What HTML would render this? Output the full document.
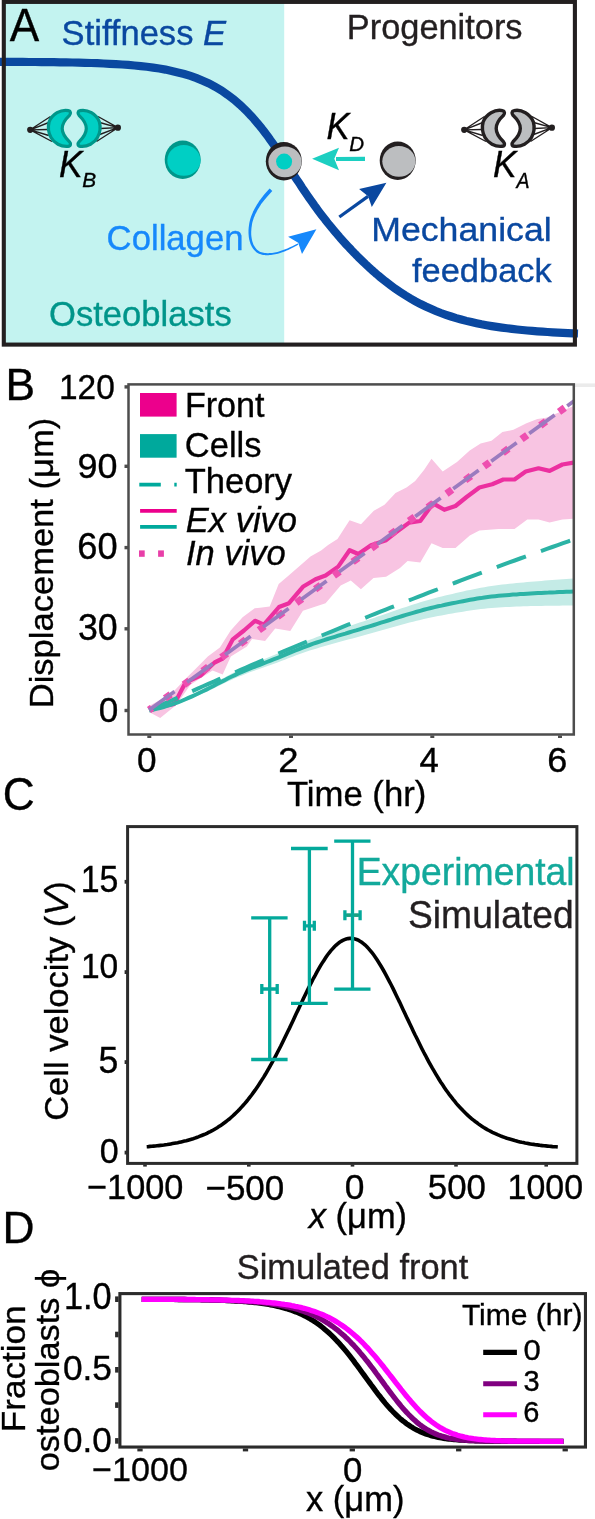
<!DOCTYPE html>
<html><head><meta charset="utf-8"><title>Figure</title>
<style>
html,body{margin:0;padding:0;background:#fff;width:595px;height:1519px;overflow:hidden;}
svg{display:block;will-change:transform;}
text{font-family:"Liberation Sans",sans-serif;}
</style></head><body>
<svg width="595" height="1519" viewBox="0 0 595 1519">
<rect x="0" y="0" width="595" height="1519" fill="#fff"/>
<rect x="5" y="3" width="279.2" height="340" fill="#c3f3f0"/>
<path d="M-2 61.8 L4.2 61.8 L10.4 61.8 L16.6 61.9 L22.8 61.9 L29 62 L35.2 62 L41.4 62.1 L47.6 62.1 L53.8 62.2 L60.1 62.3 L66.3 62.4 L72.5 62.5 L78.7 62.6 L84.9 62.8 L91.1 63 L97.3 63.2 L103.5 63.5 L109.7 63.8 L115.9 64.1 L122.1 64.5 L128.3 64.9 L134.5 65.5 L140.7 66.1 L146.9 66.8 L153.1 67.6 L159.3 68.5 L165.5 69.6 L171.7 70.9 L177.9 72.4 L184.2 74 L190.4 75.9 L196.6 78.1 L202.8 80.7 L209 83.5 L215.2 86.8 L221.4 90.5 L227.6 94.8 L233.8 99.5 L240 104.8 L240 104.8 L241.8 106.5 L243.5 108.1 L245.3 109.9 L247.1 111.7 L248.9 113.5 L250.6 115.4 L252.4 117.3 L254.2 119.3 L255.9 121.4 L257.7 123.5 L259.5 125.6 L261.3 127.8 L263 130.1 L264.8 132.4 L266.6 134.7 L268.4 137.1 L270.1 139.6 L271.9 142.1 L273.7 144.6 L275.4 147.1 L277.2 149.7 L279 152.4 L280.8 155 L282.5 157.7 L284.3 160.4 L286.1 163.1 L287.8 165.8 L289.6 168.5 L291.4 171.3 L293.2 174 L294.9 176.7 L296.7 179.4 L298.5 182.1 L300.3 184.8 L302 187.5 L303.8 190.1 L305.6 192.8 L307.3 195.3 L309.1 197.9 L310.9 200.4 L312.7 202.9 L314.4 205.4 L316.2 207.8 L318 210.3 L319.7 212.6 L321.5 215 L323.3 217.3 L325.1 219.5 L326.8 221.8 L328.6 224 L330.4 226.2 L332.2 228.3 L333.9 230.5 L335.7 232.6 L337.5 234.6 L339.2 236.7 L341 238.7 L342.8 240.7 L344.6 242.7 L346.3 244.6 L348.1 246.5 L349.9 248.4 L351.6 250.3 L353.4 252.1 L355.2 254 L357 255.8 L358.7 257.6 L360.5 259.3 L362.3 261 L364.1 262.7 L365.8 264.4 L367.6 266.1 L369.4 267.7 L371.1 269.3 L372.9 270.9 L374.7 272.5 L376.5 274 L378.2 275.5 L380 277 L380 277 L385.1 281.1 L390.2 285 L395.2 288.7 L400.3 292.1 L405.4 295.4 L410.5 298.5 L415.5 301.3 L420.6 304 L425.7 306.5 L430.8 308.8 L435.8 311 L440.9 313 L446 314.8 L451.1 316.5 L456.2 318.1 L461.2 319.5 L466.3 320.9 L471.4 322.1 L476.5 323.2 L481.5 324.3 L486.6 325.2 L491.7 326.1 L496.8 326.9 L501.8 327.6 L506.9 328.3 L512 328.9 L517.1 329.5 L522.2 330 L527.2 330.5 L532.3 330.9 L537.4 331.3 L542.5 331.7 L547.5 332 L552.6 332.3 L557.7 332.6 L562.8 332.8 L567.8 333.1 L572.9 333.3 L578 333.5" fill="none" stroke="#0a48a0" stroke-width="8.2"/>
<g transform="translate(0 0)"><path d="M30.2 129.8 L50.5 116.5 M30.2 129.8 L48.8 122.5 M30.2 129.8 L48 129.5 M30.2 129.8 L48.8 135.5 M30.2 129.8 L52 141.5 M117.9 127.7 L98 116.5 M117.9 127.7 L99.7 122.5 M117.9 127.7 L100.5 128.5 M117.9 127.7 L99.7 134.5 M117.9 127.7 L96.5 141.5 " stroke="#231f20" stroke-width="1.35" fill="none"/><circle cx="30.2" cy="129.8" r="3.1" fill="#231f20"/><circle cx="117.9" cy="127.7" r="3.1" fill="#231f20"/><path d="M68.5 110.6 C61 109 52 114 49.1 122 C47.8 127 48.5 133 51 137.5 C54 143 61 147 68 146.3 C71 146 71 143.5 69.5 141.8 C65 137.5 62.2 133 62.2 128.5 C62.2 124 65 119.5 69.5 115.3 C71 113.6 70.8 111 68.5 110.6 Z" fill="#00cfc4" stroke="#00968a" stroke-width="3.2" stroke-linejoin="round"/><path transform="matrix(-1 0 0 1 148.5 0)" d="M68.5 110.6 C61 109 52 114 49.1 122 C47.8 127 48.5 133 51 137.5 C54 143 61 147 68 146.3 C71 146 71 143.5 69.5 141.8 C65 137.5 62.2 133 62.2 128.5 C62.2 124 65 119.5 69.5 115.3 C71 113.6 70.8 111 68.5 110.6 Z" fill="#00cfc4" stroke="#00968a" stroke-width="3.2" stroke-linejoin="round"/></g>
<g transform="translate(434 0)"><path d="M30.2 129.8 L50.5 116.5 M30.2 129.8 L48.8 122.5 M30.2 129.8 L48 129.5 M30.2 129.8 L48.8 135.5 M30.2 129.8 L52 141.5 M117.9 127.7 L98 116.5 M117.9 127.7 L99.7 122.5 M117.9 127.7 L100.5 128.5 M117.9 127.7 L99.7 134.5 M117.9 127.7 L96.5 141.5 " stroke="#231f20" stroke-width="1.35" fill="none"/><circle cx="30.2" cy="129.8" r="3.1" fill="#231f20"/><circle cx="117.9" cy="127.7" r="3.1" fill="#231f20"/><path d="M68.5 110.6 C61 109 52 114 49.1 122 C47.8 127 48.5 133 51 137.5 C54 143 61 147 68 146.3 C71 146 71 143.5 69.5 141.8 C65 137.5 62.2 133 62.2 128.5 C62.2 124 65 119.5 69.5 115.3 C71 113.6 70.8 111 68.5 110.6 Z" fill="#bcbec0" stroke="#231f20" stroke-width="3.4" stroke-linejoin="round"/><path transform="matrix(-1 0 0 1 148.5 0)" d="M68.5 110.6 C61 109 52 114 49.1 122 C47.8 127 48.5 133 51 137.5 C54 143 61 147 68 146.3 C71 146 71 143.5 69.5 141.8 C65 137.5 62.2 133 62.2 128.5 C62.2 124 65 119.5 69.5 115.3 C71 113.6 70.8 111 68.5 110.6 Z" fill="#bcbec0" stroke="#231f20" stroke-width="3.4" stroke-linejoin="round"/></g>
<ellipse cx="182.7" cy="159.8" rx="18" ry="19.2" fill="#00968a"/><ellipse cx="183.9" cy="160.4" rx="16.6" ry="15.4" fill="#00cfc4"/>
<ellipse cx="283.8" cy="161.2" rx="18" ry="19.2" fill="#231f20"/><ellipse cx="285" cy="161.8" rx="16.6" ry="15.4" fill="#bcbec0"/>
<circle cx="284.1" cy="161.6" r="8" fill="#00cfc4"/>
<ellipse cx="397.7" cy="160.7" rx="18" ry="19.2" fill="#231f20"/><ellipse cx="398.9" cy="161.3" rx="16.6" ry="15.4" fill="#bcbec0"/>
<path d="M365 156.7 L336 156.9 L336 160.9 L365 160.9 Z" fill="#1ccfc1"/>
<path d="M312.1 158.8 L339 147.8 L334.3 158.8 L339 170.2 Z" fill="#1ccfc1"/>
<path d="M269.7 188.5 L268.7 189.5 L267.8 190.5 L266.9 191.5 L266 192.5 L265.1 193.5 L264.2 194.6 L263.4 195.6 L262.5 196.7 L261.7 197.8 L260.8 198.9 L260 200 L259.2 201.1 L258.5 202.2 L257.7 203.4 L257 204.5 L256.3 205.7 L255.6 206.9 L255 208 L254.3 209.2 L253.7 210.4 L253.1 211.6 L252.6 212.9 L252.1 214.1 L251.6 215.3 L251.1 216.6 L250.7 217.8 L250.3 219.1 L249.9 220.4 L249.6 221.7 L249.3 223.2 L249.1 224.6 L248.9 226.1 L248.7 227.5 L248.6 228.9 L248.5 230.3 L248.5 231.7 L248.5 233 L248.6 234.4 L248.7 235.7 L248.8 236.9 L249 238.2 L249.2 239.4 L249.5 240.6 L249.8 241.7 L250.2 242.8 L250.5 243.9 L251 244.9 L251.5 245.9 L252 246.9 L252.5 247.8 L253.1 248.7 L253.8 249.5 L254.4 250.3 L255.2 251.1 L255.9 251.7 L256.7 252.4 L257.6 253 L258.5 253.5 L259.7 254 L260.8 254.3 L262 254.7 L263.2 254.9 L264.5 255.1 L265.7 255.2 L267 255.2 L268.3 255.2 L269.6 255.1 L271 255 L272.3 254.8 L273.7 254.6 L275.1 254.3 L276.5 254 L277.9 253.7 L279.4 253.2 L280.8 252.8 L282.3 252.3 L283.7 251.8 L285.2 251.2 L286.6 250.6 L288.1 249.9 L289.6 249.3 L291 248.5 L292.5 247.8 L294 247 L295.4 246.3 L296.9 245.4 L298.3 244.6 L297.7 243.4 L296.2 244.2 L294.7 245 L293.3 245.7 L291.8 246.4 L290.4 247.1 L288.9 247.8 L287.4 248.4 L286 249 L284.5 249.6 L283.1 250.1 L281.7 250.6 L280.3 251.1 L278.9 251.5 L277.5 251.9 L276.1 252.2 L274.7 252.5 L273.4 252.7 L272.1 252.9 L270.8 253 L269.5 253.1 L268.3 253.2 L267.1 253.2 L265.9 253.1 L264.7 253 L263.6 252.8 L262.5 252.5 L261.5 252.2 L260.4 251.9 L259.5 251.5 L258.8 251.1 L258.1 250.6 L257.4 250 L256.8 249.4 L256.2 248.7 L255.6 248.1 L255.1 247.3 L254.6 246.5 L254.1 245.7 L253.6 244.9 L253.2 244 L252.9 243 L252.5 242 L252.2 241 L252 240 L251.8 238.9 L251.6 237.8 L251.4 236.6 L251.3 235.4 L251.2 234.2 L251.2 233 L251.2 231.7 L251.3 230.4 L251.4 229.1 L251.5 227.8 L251.7 226.5 L251.9 225.1 L252.1 223.7 L252.4 222.3 L252.7 221.2 L253.1 220 L253.5 218.8 L253.9 217.6 L254.4 216.4 L254.9 215.3 L255.4 214.1 L256 213 L256.5 211.9 L257.1 210.7 L257.8 209.6 L258.4 208.5 L259.1 207.4 L259.8 206.3 L260.5 205.2 L261.2 204.1 L262 203.1 L262.8 202 L263.6 201 L264.4 199.9 L265.2 198.9 L266.1 197.9 L266.9 196.9 L267.8 195.9 L268.7 194.9 L269.6 193.9 L270.5 193 L271.4 192 L272.3 191.1 Z" fill="#1688fb"/>
<path d="M316.4 229.2 L288.1 236.7 L298.2 242.8 L302 254.1 Z" fill="#1688fb"/>
<path d="M339.3 217 L368 196.4" stroke="#0a48a0" stroke-width="3.2" fill="none"/>
<path d="M386.4 182.8 L359.1 189.1 L368.1 196.2 L371.8 207 Z" fill="#0a48a0"/>
<rect x="3.8" y="1.9" width="571.1" height="342.7" fill="none" stroke="#231f20" stroke-width="4.1"/>
<rect x="575" y="383.4" width="20" height="3.6" fill="#ebebeb"/>
<path d="M149 706 L160 700 L175 690 L185.1 679.2 L195.7 668.7 L207.8 656.6 L219.9 647.5 L230.5 630.8 L242.6 617.2 L254.7 608.2 L260 607.8 L269.7 606.6 L278.7 583.9 L287.8 576.3 L299.9 565.7 L310.5 556.6 L321.1 550.4 L328.1 545.1 L337.5 539.1 L349.6 520.3 L361 524.3 L373.8 510.8 L384.5 504.8 L395.5 492.9 L406.5 487.5 L415.2 480.9 L424 470 L431.5 458.7 L442.7 471.5 L457 461.9 L469.7 450.5 L480.6 443.6 L491.5 440.7 L502.4 432 L513.4 429.8 L526.5 423.2 L537.4 418.9 L546.1 417.8 L560 412 L573.5 406 L573.5 518.8 L562.4 519.4 L549.6 522.6 L538.5 519.4 L527.3 519.4 L514.5 529 L498.6 529 L479.4 530.6 L469.8 535.4 L455.5 548.1 L442.7 548.1 L431.5 543.3 L420.3 562.5 L407.6 560.9 L400 567.9 L386.1 576.7 L373.5 578 L360.9 589.3 L350.8 580.5 L340.7 585.5 L325.6 603.2 L302.9 610.7 L290.3 630.9 L275.2 628.4 L265.1 641 L252 639 L246.9 646.4 L230.8 656.5 L222.7 674.6 L212.6 670.6 L190.4 684.7 L176.3 704.9 L160.2 718 L149 712 Z" fill="#f8c4e2"/>
<path d="M149.3 710 L152.9 709.1 L156.4 708.2 L160 707.1 L163.6 706 L167.1 704.9 L170.7 703.7 L174.3 702.4 L177.8 701 L181.4 699.5 L184.9 697.9 L188.5 696.3 L192.1 694.5 L195.6 692.8 L199.2 691 L202.8 689.3 L206.3 687.4 L209.9 685.5 L213.5 683.6 L217 681.6 L220.6 679.6 L224.2 677.7 L227.7 675.7 L231.3 673.8 L234.9 672 L238.4 670.3 L242 668.7 L245.5 667.1 L249.1 665.5 L252.7 664 L256.2 662.5 L259.8 661 L263.4 659.5 L266.9 658.1 L270.5 656.6 L274.1 655.1 L277.6 653.5 L281.2 652 L284.8 650.4 L288.3 648.8 L291.9 647.2 L295.5 645.7 L299 644.2 L302.6 642.7 L306.1 641.2 L309.7 639.8 L313.3 638.4 L316.8 637.1 L320.4 635.8 L324 634.5 L327.5 633.3 L331.1 632 L334.7 630.8 L338.2 629.6 L341.8 628.5 L345.4 627.3 L348.9 626.1 L352.5 624.9 L356.1 623.8 L359.6 622.6 L363.2 621.4 L366.7 620.3 L370.3 619.1 L373.9 617.9 L377.4 616.6 L381 615.4 L384.6 614.2 L388.1 612.9 L391.7 611.7 L395.3 610.5 L398.8 609.3 L402.4 608.1 L406 606.9 L409.5 605.7 L413.1 604.5 L416.7 603.4 L420.2 602.3 L423.8 601.2 L427.3 600.2 L430.9 599.2 L434.5 598.2 L438 597.3 L441.6 596.4 L445.2 595.6 L448.7 594.7 L452.3 593.9 L455.9 593 L459.4 592.2 L463 591.4 L466.6 590.6 L470.1 589.9 L473.7 589.2 L477.3 588.5 L480.8 587.8 L484.4 587.2 L487.9 586.6 L491.5 586 L495.1 585.5 L498.6 585 L502.2 584.6 L505.8 584.2 L509.3 583.8 L512.9 583.4 L516.5 583.1 L520 582.7 L523.6 582.4 L527.2 582.1 L530.7 581.8 L534.3 581.5 L537.9 581.2 L541.4 580.9 L545 580.6 L548.5 580.3 L552.1 580 L555.7 579.8 L559.2 579.5 L562.8 579.3 L566.4 579 L569.9 578.8 L573.5 578.6 L573.5 605.6 L569.9 605.6 L566.4 605.6 L562.8 605.6 L559.2 605.7 L555.7 605.7 L552.1 605.7 L548.5 605.8 L545 605.8 L541.4 605.9 L537.9 606 L534.3 606.1 L530.7 606.1 L527.2 606.2 L523.6 606.3 L520 606.4 L516.5 606.6 L512.9 606.7 L509.3 606.9 L505.8 607 L502.2 607.2 L498.6 607.4 L495.1 607.7 L491.5 608 L487.9 608.3 L484.4 608.7 L480.8 609.1 L477.3 609.6 L473.7 610 L470.1 610.6 L466.6 611.1 L463 611.7 L459.4 612.2 L455.9 612.8 L452.3 613.5 L448.7 614.1 L445.2 614.7 L441.6 615.4 L438 616 L434.5 616.7 L430.9 617.5 L427.3 618.2 L423.8 619.1 L420.2 619.9 L416.7 620.8 L413.1 621.7 L409.5 622.6 L406 623.6 L402.4 624.6 L398.8 625.6 L395.3 626.6 L391.7 627.6 L388.1 628.6 L384.6 629.6 L381 630.6 L377.4 631.6 L373.9 632.6 L370.3 633.6 L366.7 634.6 L363.2 635.6 L359.6 636.5 L356.1 637.5 L352.5 638.4 L348.9 639.3 L345.4 640.3 L341.8 641.3 L338.2 642.2 L334.7 643.2 L331.1 644.2 L327.5 645.2 L324 646.2 L320.4 647.3 L316.8 648.4 L313.3 649.5 L309.7 650.6 L306.1 651.8 L302.6 653 L299 654.3 L295.5 655.6 L291.9 657 L288.3 658.3 L284.8 659.7 L281.2 661 L277.6 662.4 L274.1 663.7 L270.5 665 L266.9 666.3 L263.4 667.5 L259.8 668.8 L256.2 670.1 L252.7 671.3 L249.1 672.6 L245.5 674 L242 675.4 L238.4 676.8 L234.9 678.3 L231.3 679.9 L227.7 681.5 L224.2 683.2 L220.6 685 L217 686.7 L213.5 688.5 L209.9 690.2 L206.3 691.9 L202.8 693.5 L199.2 695.1 L195.6 696.6 L192.1 698.2 L188.5 699.7 L184.9 701.1 L181.4 702.5 L177.8 703.8 L174.3 704.9 L170.7 706 L167.1 707 L163.6 707.9 L160 708.8 L156.4 709.6 L152.9 710.4 L149.3 711 Z" fill="#c4ebe6"/>
<path d="M150.1 709.9 L162 706.5 L174.3 703.9 L185.4 682.7 L200.5 675.6 L214.6 662.5 L222.7 658.5 L232.8 639.3 L244 630.5 L255 620.8 L263.9 624.6 L279 607 L289 603.2 L302.9 586.8 L315.5 579.2 L325.6 575.5 L338.2 566.6 L349.6 550.2 L358.4 554 L371 545.2 L386.1 540.2 L395 533 L409.2 522.6 L420.3 521 L433.1 503.4 L444.3 509.8 L455.5 506 L466.6 497 L479.4 487.5 L492.2 484.3 L503.3 479.5 L514.5 479.5 L525.7 471.5 L538.5 468.3 L549.6 470.9 L562.4 464.5 L573.5 462.6" fill="none" stroke="#ec30a0" stroke-width="4.2" stroke-linejoin="round"/>
<path d="M149.3 710.5 L152.9 709.7 L156.4 708.9 L160 708 L163.6 707 L167.1 705.9 L170.7 704.8 L174.3 703.6 L177.8 702.4 L181.4 701 L184.9 699.5 L188.5 697.9 L192.1 696.3 L195.6 694.7 L199.2 693 L202.8 691.3 L206.3 689.6 L209.9 687.8 L213.5 686 L217 684.1 L220.6 682.2 L224.2 680.4 L227.7 678.5 L231.3 676.8 L234.9 675.1 L238.4 673.4 L242 671.9 L245.5 670.4 L249.1 669 L252.7 667.5 L256.2 666.2 L259.8 664.8 L263.4 663.4 L266.9 662 L270.5 660.6 L274.1 659.2 L277.6 657.8 L281.2 656.3 L284.8 654.9 L288.3 653.4 L291.9 651.9 L295.5 650.5 L299 649.1 L302.6 647.7 L306.1 646.3 L309.7 645 L313.3 643.7 L316.8 642.5 L320.4 641.3 L324 640.2 L327.5 639 L331.1 637.9 L334.7 636.8 L338.2 635.7 L341.8 634.6 L345.4 633.6 L348.9 632.5 L352.5 631.4 L356.1 630.4 L359.6 629.3 L363.2 628.2 L366.7 627.2 L370.3 626.1 L373.9 625 L377.4 623.9 L381 622.7 L384.6 621.6 L388.1 620.5 L391.7 619.4 L395.3 618.2 L398.8 617.1 L402.4 616 L406 614.9 L409.5 613.9 L413.1 612.8 L416.7 611.8 L420.2 610.8 L423.8 609.8 L427.3 608.9 L430.9 608 L434.5 607.1 L438 606.3 L441.6 605.6 L445.2 604.8 L448.7 604 L452.3 603.3 L455.9 602.6 L459.4 601.9 L463 601.2 L466.6 600.5 L470.1 599.8 L473.7 599.2 L477.3 598.6 L480.8 598.1 L484.4 597.5 L487.9 597 L491.5 596.6 L495.1 596.2 L498.6 595.8 L502.2 595.5 L505.8 595.2 L509.3 594.9 L512.9 594.6 L516.5 594.4 L520 594.1 L523.6 593.9 L527.2 593.7 L530.7 593.5 L534.3 593.3 L537.9 593.1 L541.4 592.9 L545 592.7 L548.5 592.6 L552.1 592.4 L555.7 592.3 L559.2 592.1 L562.8 592 L566.4 591.8 L569.9 591.7 L573.5 591.6" fill="none" stroke="#2cb3a5" stroke-width="4"/>
<path d="M149.3 710.5 L154.7 708 L160 705.6 L165.4 703.2 L170.8 700.7 L176.2 698.3 L181.5 695.9 L186.9 693.5 L192.3 691.1 L197.7 688.7 L203 686.3 L208.4 683.9 L213.8 681.6 L219.2 679.2 L224.5 676.8 L229.9 674.5 L235.3 672.2 L240.6 669.8 L246 667.5 L251.4 665.2 L256.8 662.9 L262.1 660.6 L267.5 658.3 L272.9 656 L278.3 653.7 L283.6 651.4 L289 649.1 L294.4 646.9 L299.8 644.6 L305.1 642.4 L310.5 640.1 L315.9 637.9 L321.2 635.7 L326.6 633.5 L332 631.3 L337.4 629.1 L342.7 626.9 L348.1 624.7 L353.5 622.5 L358.9 620.3 L364.2 618.2 L369.6 616 L375 613.8 L380.4 611.7 L385.7 609.6 L391.1 607.4 L396.5 605.3 L401.9 603.2 L407.2 601.1 L412.6 599 L418 596.9 L423.3 594.8 L428.7 592.7 L434.1 590.7 L439.5 588.6 L444.8 586.6 L450.2 584.5 L455.6 582.5 L461 580.4 L466.3 578.4 L471.7 576.4 L477.1 574.4 L482.5 572.4 L487.8 570.4 L493.2 568.4 L498.6 566.4 L503.9 564.4 L509.3 562.4 L514.7 560.5 L520.1 558.5 L525.4 556.6 L530.8 554.6 L536.2 552.7 L541.6 550.8 L546.9 548.9 L552.3 547 L557.7 545.1 L563.1 543.2 L568.4 541.3 L573.8 539.4" fill="none" stroke="#2cb3a5" stroke-width="4" stroke-dasharray="31 16"/>
<path d="M149.1 710 L574 401" fill="none" stroke="#ee4fb0" stroke-width="7.2" stroke-dasharray="7 16.2" stroke-dashoffset="3.5"/>
<path d="M149.1 710 L574 401" fill="none" stroke="#9a7bbf" stroke-width="3.7" stroke-dasharray="31.5 15.5"/>
<rect x="128.5" y="384.4" width="445.3" height="350.1" fill="none" stroke="#4d4d4d" stroke-width="2.5"/>
<path d="M124.5 710.5 H128" stroke="#4d4d4d" stroke-width="3.4"/>
<path d="M124.5 628.8 H128" stroke="#4d4d4d" stroke-width="3.4"/>
<path d="M124.5 547.6 H128" stroke="#4d4d4d" stroke-width="3.4"/>
<path d="M124.5 466.3 H128" stroke="#4d4d4d" stroke-width="3.4"/>
<path d="M124.5 386.9 H128" stroke="#4d4d4d" stroke-width="3.4"/>
<path d="M149.3 735.5 V738" stroke="#4d4d4d" stroke-width="4"/>
<path d="M291 735.5 V738" stroke="#4d4d4d" stroke-width="4"/>
<path d="M432.3 735.5 V738" stroke="#4d4d4d" stroke-width="4"/>
<path d="M560 735.5 V738" stroke="#4d4d4d" stroke-width="4"/>
<rect x="140" y="393" width="36.6" height="23.6" fill="#ec008c"/>
<rect x="140" y="434.1" width="36.6" height="23.6" fill="#00a99c"/>
<path d="M139.3 484.7 H160.8 M174.3 484.7 H176.7" stroke="#00a99c" stroke-width="3.7"/>
<path d="M140.1 510.9 H176.7" stroke="#ec008c" stroke-width="3.6"/>
<path d="M140.1 526.9 H176.7" stroke="#00a99c" stroke-width="3.8"/>
<rect x="139" y="550.4" width="5.7" height="6.4" fill="#e83fa8"/><rect x="158.1" y="550.4" width="5.8" height="6.4" fill="#e83fa8"/>
<path d="M146.7 1146.7 L148.4 1146.6 L150.1 1146.4 L151.9 1146.3 L153.6 1146.1 L155.3 1146 L157 1145.8 L158.7 1145.6 L160.5 1145.4 L162.2 1145.2 L163.9 1145 L165.6 1144.7 L167.3 1144.5 L169.1 1144.2 L170.8 1143.9 L172.5 1143.6 L174.2 1143.3 L175.9 1143 L177.7 1142.7 L179.4 1142.3 L181.1 1141.9 L182.8 1141.5 L184.5 1141.1 L186.3 1140.7 L188 1140.2 L189.7 1139.7 L191.4 1139.2 L193.1 1138.7 L194.9 1138.1 L196.6 1137.5 L198.3 1136.9 L200 1136.2 L201.7 1135.5 L203.5 1134.8 L205.2 1134.1 L206.9 1133.3 L208.6 1132.4 L210.3 1131.6 L212.1 1130.7 L213.8 1129.7 L215.5 1128.7 L217.2 1127.7 L218.9 1126.6 L220.7 1125.4 L222.4 1124.3 L224.1 1123 L225.8 1121.7 L227.5 1120.4 L229.3 1119 L231 1117.5 L232.7 1116 L234.4 1114.4 L236.1 1112.8 L237.9 1111.1 L239.6 1109.3 L241.3 1107.4 L243 1105.5 L244.7 1103.6 L246.5 1101.5 L248.2 1099.4 L249.9 1097.2 L251.6 1095 L253.3 1092.6 L255.1 1090.2 L256.8 1087.7 L258.5 1085.2 L260.2 1082.6 L261.9 1079.9 L263.7 1077.1 L265.4 1074.3 L267.1 1071.3 L268.8 1068.4 L270.5 1065.3 L272.3 1062.2 L274 1059 L275.7 1055.8 L277.4 1052.5 L279.1 1049.2 L280.9 1045.8 L282.6 1042.3 L284.3 1038.8 L286 1035.3 L287.7 1031.7 L289.5 1028.1 L291.2 1024.5 L292.9 1020.9 L294.6 1017.2 L296.3 1013.6 L298.1 1009.9 L299.8 1006.3 L301.5 1002.7 L303.2 999 L304.9 995.5 L306.7 991.9 L308.4 988.4 L310.1 985 L311.8 981.6 L313.5 978.3 L315.3 975.1 L317 971.9 L318.7 968.9 L320.4 965.9 L322.1 963.1 L323.9 960.4 L325.6 957.8 L327.3 955.3 L329 953 L330.7 950.9 L332.5 948.9 L334.2 947 L335.9 945.3 L337.6 943.8 L339.3 942.5 L341.1 941.3 L342.8 940.4 L344.5 939.6 L346.2 939 L347.9 938.6 L349.7 938.4 L351.4 938.4 L353.1 938.5 L354.8 938.9 L356.6 939.5 L358.3 940.2 L360 941.2 L361.7 942.3 L363.4 943.6 L365.2 945.1 L366.9 946.8 L368.6 948.6 L370.3 950.6 L372 952.7 L373.8 955 L375.5 957.4 L377.2 960 L378.9 962.7 L380.6 965.5 L382.4 968.5 L384.1 971.5 L385.8 974.6 L387.5 977.8 L389.2 981.1 L391 984.5 L392.7 987.9 L394.4 991.4 L396.1 995 L397.8 998.5 L399.6 1002.1 L401.3 1005.8 L403 1009.4 L404.7 1013.1 L406.4 1016.7 L408.2 1020.4 L409.9 1024 L411.6 1027.6 L413.3 1031.2 L415 1034.8 L416.8 1038.3 L418.5 1041.8 L420.2 1045.3 L421.9 1048.7 L423.6 1052 L425.4 1055.3 L427.1 1058.6 L428.8 1061.8 L430.5 1064.9 L432.2 1067.9 L434 1070.9 L435.7 1073.8 L437.4 1076.7 L439.1 1079.5 L440.8 1082.2 L442.6 1084.8 L444.3 1087.4 L446 1089.9 L447.7 1092.3 L449.4 1094.6 L451.2 1096.9 L452.9 1099.1 L454.6 1101.2 L456.3 1103.3 L458 1105.3 L459.8 1107.2 L461.5 1109 L463.2 1110.8 L464.9 1112.5 L466.6 1114.2 L468.4 1115.8 L470.1 1117.3 L471.8 1118.8 L473.5 1120.2 L475.2 1121.5 L477 1122.8 L478.7 1124.1 L480.4 1125.3 L482.1 1126.4 L483.8 1127.5 L485.6 1128.6 L487.3 1129.6 L489 1130.5 L490.7 1131.4 L492.4 1132.3 L494.2 1133.1 L495.9 1133.9 L497.6 1134.7 L499.3 1135.4 L501 1136.1 L502.8 1136.8 L504.5 1137.4 L506.2 1138 L507.9 1138.6 L509.6 1139.1 L511.4 1139.6 L513.1 1140.1 L514.8 1140.6 L516.5 1141 L518.2 1141.5 L520 1141.9 L521.7 1142.3 L523.4 1142.6 L525.1 1143 L526.8 1143.3 L528.6 1143.6 L530.3 1143.9 L532 1144.2 L533.7 1144.4 L535.4 1144.7 L537.2 1144.9 L538.9 1145.1 L540.6 1145.4 L542.3 1145.6 L544 1145.8 L545.8 1145.9 L547.5 1146.1 L549.2 1146.3 L550.9 1146.4 L552.6 1146.6 L554.4 1146.7 L556.1 1146.8 L557.8 1147" fill="none" stroke="#000" stroke-width="3.6"/>
<path d="M269.7 917.9 V1059.5 M251.2 917.9 H287.6 M251.2 1059.5 H287.6 M261.8 989 H277.2 M261.8 984 V994 M277.2 984 V994" fill="none" stroke="#03a99b" stroke-width="3.3"/>
<path d="M309.4 848.5 V1003.4 M291 848.5 H327.7 M291 1003.4 H327.7 M304.5 925.8 H314.3 M304.5 920.8 V930.8 M314.3 920.8 V930.8" fill="none" stroke="#03a99b" stroke-width="3.3"/>
<path d="M352.5 841.2 V989.1 M334.2 841.2 H370.5 M334.2 989.1 H370.5 M344.9 915.2 H360.1 M344.9 910.2 V920.2 M360.1 910.2 V920.2" fill="none" stroke="#03a99b" stroke-width="3.3"/>
<path d="M346.6 915.2 H350.8" stroke="#20a07e" stroke-width="3.3"/>
<path d="M354.2 915.2 H358.4" stroke="#20a07e" stroke-width="3.3"/>
<rect x="127.6" y="826.6" width="449.3" height="336.8" fill="none" stroke="#2b2b2b" stroke-width="3"/>
<path d="M124.6 1152.6 H127" stroke="#2b2b2b" stroke-width="3.8"/>
<path d="M124.6 1062.1 H127" stroke="#2b2b2b" stroke-width="3.8"/>
<path d="M124.6 972.1 H127" stroke="#2b2b2b" stroke-width="3.8"/>
<path d="M124.6 881.8 H127" stroke="#2b2b2b" stroke-width="3.8"/>
<path d="M145 1164.5 V1166.6" stroke="#2b2b2b" stroke-width="3.6"/>
<path d="M248.8 1164.5 V1166.6" stroke="#2b2b2b" stroke-width="3.6"/>
<path d="M352.5 1164.5 V1166.6" stroke="#2b2b2b" stroke-width="3.6"/>
<path d="M456 1164.5 V1166.6" stroke="#2b2b2b" stroke-width="3.6"/>
<path d="M546.2 1164.5 V1166.6" stroke="#2b2b2b" stroke-width="3.6"/>
<path d="M141.7 1299.3 L143.5 1299.3 L145.2 1299.3 L147 1299.3 L148.8 1299.3 L150.5 1299.3 L152.3 1299.3 L154.1 1299.3 L155.8 1299.3 L157.6 1299.3 L159.3 1299.3 L161.1 1299.3 L162.9 1299.4 L164.6 1299.4 L166.4 1299.4 L168.2 1299.4 L169.9 1299.4 L171.7 1299.4 L173.5 1299.4 L175.2 1299.4 L177 1299.4 L178.8 1299.5 L180.5 1299.5 L182.3 1299.5 L184.1 1299.5 L185.8 1299.5 L187.6 1299.6 L189.4 1299.6 L191.1 1299.6 L192.9 1299.6 L194.6 1299.7 L196.4 1299.7 L198.2 1299.7 L199.9 1299.7 L201.7 1299.8 L203.5 1299.8 L205.2 1299.8 L207 1299.9 L208.8 1299.9 L210.5 1300 L212.3 1300 L214.1 1300.1 L215.8 1300.1 L217.6 1300.2 L219.4 1300.2 L221.1 1300.3 L222.9 1300.4 L224.6 1300.4 L226.4 1300.5 L228.2 1300.6 L229.9 1300.7 L231.7 1300.8 L233.5 1300.9 L235.2 1301 L237 1301.1 L238.8 1301.2 L240.5 1301.3 L242.3 1301.4 L244.1 1301.6 L245.8 1301.7 L247.6 1301.8 L249.4 1302 L251.1 1302.2 L252.9 1302.4 L254.7 1302.5 L256.4 1302.7 L258.2 1303 L259.9 1303.2 L261.7 1303.4 L263.5 1303.7 L265.2 1303.9 L267 1304.2 L268.8 1304.5 L270.5 1304.8 L272.3 1305.2 L274.1 1305.5 L275.8 1305.9 L277.6 1306.3 L279.4 1306.7 L281.1 1307.1 L282.9 1307.6 L284.7 1308.1 L286.4 1308.6 L288.2 1309.2 L289.9 1309.7 L291.7 1310.3 L293.5 1311 L295.2 1311.7 L297 1312.4 L298.8 1313.1 L300.5 1313.9 L302.3 1314.7 L304.1 1315.6 L305.8 1316.5 L307.6 1317.4 L309.4 1318.4 L311.1 1319.5 L312.9 1320.6 L314.7 1321.7 L316.4 1322.9 L318.2 1324.1 L320 1325.4 L321.7 1326.8 L323.5 1328.2 L325.2 1329.7 L327 1331.2 L328.8 1332.8 L330.5 1334.4 L332.3 1336.1 L334.1 1337.9 L335.8 1339.7 L337.6 1341.6 L339.4 1343.5 L341.1 1345.5 L342.9 1347.5 L344.7 1349.6 L346.4 1351.7 L348.2 1353.9 L350 1356.2 L351.7 1358.4 L353.5 1360.7 L355.2 1363.1 L357 1365.4 L358.8 1367.8 L360.5 1370.2 L362.3 1372.7 L364.1 1375.1 L365.8 1377.5 L367.6 1380 L369.4 1382.4 L371.1 1384.8 L372.9 1387.2 L374.7 1389.6 L376.4 1392 L378.2 1394.3 L380 1396.5 L381.7 1398.8 L383.5 1401 L385.2 1403.1 L387 1405.2 L388.8 1407.2 L390.5 1409.1 L392.3 1411 L394.1 1412.8 L395.8 1414.6 L397.6 1416.2 L399.4 1417.9 L401.1 1419.4 L402.9 1420.9 L404.7 1422.2 L406.4 1423.6 L408.2 1424.8 L410 1426 L411.7 1427.1 L413.5 1428.2 L415.3 1429.2 L417 1430.1 L418.8 1430.9 L420.5 1431.8 L422.3 1432.5 L424.1 1433.2 L425.8 1433.9 L427.6 1434.5 L429.4 1435 L431.1 1435.6 L432.9 1436.1 L434.7 1436.5 L436.4 1436.9 L438.2 1437.3 L440 1437.6 L441.7 1438 L443.5 1438.3 L445.3 1438.5 L447 1438.8 L448.8 1439 L450.5 1439.2 L452.3 1439.4 L454.1 1439.6 L455.8 1439.7 L457.6 1439.9 L459.4 1440 L461.1 1440.1 L462.9 1440.2 L464.7 1440.3 L466.4 1440.4 L468.2 1440.5 L470 1440.6 L471.7 1440.7 L473.5 1440.7 L475.3 1440.8 L477 1440.8 L478.8 1440.9 L480.6 1440.9 L482.3 1440.9 L484.1 1441 L485.8 1441 L487.6 1441 L489.4 1441.1 L491.1 1441.1 L492.9 1441.1 L494.7 1441.1 L496.4 1441.1 L498.2 1441.2 L500 1441.2 L501.7 1441.2 L503.5 1441.2 L505.3 1441.2 L507 1441.2 L508.8 1441.2 L510.6 1441.2 L512.3 1441.2 L514.1 1441.2 L515.8 1441.2 L517.6 1441.3 L519.4 1441.3 L521.1 1441.3 L522.9 1441.3 L524.7 1441.3 L526.4 1441.3 L528.2 1441.3 L530 1441.3 L531.7 1441.3 L533.5 1441.3 L535.3 1441.3 L537 1441.3 L538.8 1441.3 L540.6 1441.3 L542.3 1441.3 L544.1 1441.3 L545.9 1441.3 L547.6 1441.3 L549.4 1441.3 L551.1 1441.3 L552.9 1441.3 L554.7 1441.3 L556.4 1441.3 L558.2 1441.3 L560 1441.3 L561.7 1441.3 L563.5 1441.3" fill="none" stroke="#000" stroke-width="5.3"/>
<path d="M141.7 1299.3 L143.5 1299.3 L145.2 1299.3 L147 1299.3 L148.8 1299.3 L150.5 1299.3 L152.3 1299.3 L154.1 1299.3 L155.8 1299.3 L157.6 1299.3 L159.3 1299.4 L161.1 1299.4 L162.9 1299.4 L164.6 1299.4 L166.4 1299.4 L168.2 1299.4 L169.9 1299.4 L171.7 1299.4 L173.5 1299.4 L175.2 1299.5 L177 1299.5 L178.8 1299.5 L180.5 1299.5 L182.3 1299.5 L184.1 1299.5 L185.8 1299.6 L187.6 1299.6 L189.4 1299.6 L191.1 1299.6 L192.9 1299.6 L194.6 1299.7 L196.4 1299.7 L198.2 1299.7 L199.9 1299.7 L201.7 1299.8 L203.5 1299.8 L205.2 1299.8 L207 1299.9 L208.8 1299.9 L210.5 1300 L212.3 1300 L214.1 1300 L215.8 1300.1 L217.6 1300.1 L219.4 1300.2 L221.1 1300.2 L222.9 1300.3 L224.6 1300.4 L226.4 1300.4 L228.2 1300.5 L229.9 1300.6 L231.7 1300.6 L233.5 1300.7 L235.2 1300.8 L237 1300.9 L238.8 1301 L240.5 1301.1 L242.3 1301.2 L244.1 1301.3 L245.8 1301.4 L247.6 1301.5 L249.4 1301.6 L251.1 1301.8 L252.9 1301.9 L254.7 1302.1 L256.4 1302.2 L258.2 1302.4 L259.9 1302.6 L261.7 1302.7 L263.5 1302.9 L265.2 1303.1 L267 1303.3 L268.8 1303.6 L270.5 1303.8 L272.3 1304.1 L274.1 1304.3 L275.8 1304.6 L277.6 1304.9 L279.4 1305.2 L281.1 1305.5 L282.9 1305.9 L284.7 1306.2 L286.4 1306.6 L288.2 1307 L289.9 1307.4 L291.7 1307.8 L293.5 1308.3 L295.2 1308.8 L297 1309.3 L298.8 1309.8 L300.5 1310.4 L302.3 1310.9 L304.1 1311.5 L305.8 1312.2 L307.6 1312.9 L309.4 1313.6 L311.1 1314.3 L312.9 1315.1 L314.7 1315.9 L316.4 1316.7 L318.2 1317.6 L320 1318.5 L321.7 1319.5 L323.5 1320.5 L325.2 1321.6 L327 1322.7 L328.8 1323.8 L330.5 1325 L332.3 1326.2 L334.1 1327.5 L335.8 1328.9 L337.6 1330.2 L339.4 1331.7 L341.1 1333.2 L342.9 1334.7 L344.7 1336.3 L346.4 1338 L348.2 1339.7 L350 1341.5 L351.7 1343.3 L353.5 1345.1 L355.2 1347.1 L357 1349 L358.8 1351 L360.5 1353.1 L362.3 1355.2 L364.1 1357.4 L365.8 1359.6 L367.6 1361.8 L369.4 1364.1 L371.1 1366.4 L372.9 1368.7 L374.7 1371.1 L376.4 1373.5 L378.2 1375.9 L380 1378.3 L381.7 1380.7 L383.5 1383.1 L385.2 1385.5 L387 1387.9 L388.8 1390.3 L390.5 1392.6 L392.3 1395 L394.1 1397.3 L395.8 1399.5 L397.6 1401.8 L399.4 1404 L401.1 1406.1 L402.9 1408.2 L404.7 1410.2 L406.4 1412.1 L408.2 1414 L410 1415.8 L411.7 1417.6 L413.5 1419.2 L415.3 1420.8 L417 1422.4 L418.8 1423.8 L420.5 1425.2 L422.3 1426.5 L424.1 1427.7 L425.8 1428.8 L427.6 1429.9 L429.4 1430.9 L431.1 1431.8 L432.9 1432.7 L434.7 1433.5 L436.4 1434.2 L438.2 1434.9 L440 1435.5 L441.7 1436.1 L443.5 1436.6 L445.3 1437.1 L447 1437.6 L448.8 1438 L450.5 1438.3 L452.3 1438.6 L454.1 1438.9 L455.8 1439.2 L457.6 1439.4 L459.4 1439.7 L461.1 1439.8 L462.9 1440 L464.7 1440.2 L466.4 1440.3 L468.2 1440.4 L470 1440.5 L471.7 1440.6 L473.5 1440.7 L475.3 1440.8 L477 1440.8 L478.8 1440.9 L480.6 1441 L482.3 1441 L484.1 1441 L485.8 1441.1 L487.6 1441.1 L489.4 1441.1 L491.1 1441.2 L492.9 1441.2 L494.7 1441.2 L496.4 1441.2 L498.2 1441.2 L500 1441.2 L501.7 1441.2 L503.5 1441.2 L505.3 1441.3 L507 1441.3 L508.8 1441.3 L510.6 1441.3 L512.3 1441.3 L514.1 1441.3 L515.8 1441.3 L517.6 1441.3 L519.4 1441.3 L521.1 1441.3 L522.9 1441.3 L524.7 1441.3 L526.4 1441.3 L528.2 1441.3 L530 1441.3 L531.7 1441.3 L533.5 1441.3 L535.3 1441.3 L537 1441.3 L538.8 1441.3 L540.6 1441.3 L542.3 1441.3 L544.1 1441.3 L545.9 1441.3 L547.6 1441.3 L549.4 1441.3 L551.1 1441.3 L552.9 1441.3 L554.7 1441.3 L556.4 1441.3 L558.2 1441.3 L560 1441.3 L561.7 1441.3 L563.5 1441.3" fill="none" stroke="#800080" stroke-width="5.3"/>
<path d="M141.7 1299.3 L143.5 1299.3 L145.2 1299.3 L147 1299.3 L148.8 1299.3 L150.5 1299.3 L152.3 1299.3 L154.1 1299.3 L155.8 1299.3 L157.6 1299.3 L159.3 1299.3 L161.1 1299.3 L162.9 1299.3 L164.6 1299.3 L166.4 1299.3 L168.2 1299.4 L169.9 1299.4 L171.7 1299.4 L173.5 1299.4 L175.2 1299.4 L177 1299.4 L178.8 1299.4 L180.5 1299.4 L182.3 1299.4 L184.1 1299.5 L185.8 1299.5 L187.6 1299.5 L189.4 1299.5 L191.1 1299.5 L192.9 1299.5 L194.6 1299.5 L196.4 1299.6 L198.2 1299.6 L199.9 1299.6 L201.7 1299.6 L203.5 1299.7 L205.2 1299.7 L207 1299.7 L208.8 1299.7 L210.5 1299.8 L212.3 1299.8 L214.1 1299.8 L215.8 1299.9 L217.6 1299.9 L219.4 1299.9 L221.1 1300 L222.9 1300 L224.6 1300.1 L226.4 1300.1 L228.2 1300.2 L229.9 1300.2 L231.7 1300.3 L233.5 1300.3 L235.2 1300.4 L237 1300.4 L238.8 1300.5 L240.5 1300.6 L242.3 1300.7 L244.1 1300.7 L245.8 1300.8 L247.6 1300.9 L249.4 1301 L251.1 1301.1 L252.9 1301.2 L254.7 1301.3 L256.4 1301.4 L258.2 1301.5 L259.9 1301.7 L261.7 1301.8 L263.5 1302 L265.2 1302.1 L267 1302.3 L268.8 1302.4 L270.5 1302.6 L272.3 1302.8 L274.1 1303 L275.8 1303.2 L277.6 1303.4 L279.4 1303.6 L281.1 1303.9 L282.9 1304.1 L284.7 1304.4 L286.4 1304.6 L288.2 1304.9 L289.9 1305.2 L291.7 1305.6 L293.5 1305.9 L295.2 1306.3 L297 1306.6 L298.8 1307 L300.5 1307.4 L302.3 1307.9 L304.1 1308.3 L305.8 1308.8 L307.6 1309.3 L309.4 1309.8 L311.1 1310.4 L312.9 1311 L314.7 1311.6 L316.4 1312.2 L318.2 1312.9 L320 1313.6 L321.7 1314.3 L323.5 1315 L325.2 1315.8 L327 1316.7 L328.8 1317.5 L330.5 1318.4 L332.3 1319.4 L334.1 1320.4 L335.8 1321.4 L337.6 1322.5 L339.4 1323.6 L341.1 1324.8 L342.9 1326 L344.7 1327.2 L346.4 1328.5 L348.2 1329.9 L350 1331.3 L351.7 1332.7 L353.5 1334.2 L355.2 1335.7 L357 1337.3 L358.8 1339 L360.5 1340.7 L362.3 1342.4 L364.1 1344.2 L365.8 1346.1 L367.6 1347.9 L369.4 1349.9 L371.1 1351.9 L372.9 1353.9 L374.7 1355.9 L376.4 1358 L378.2 1360.2 L380 1362.3 L381.7 1364.5 L383.5 1366.7 L385.2 1369 L387 1371.2 L388.8 1373.5 L390.5 1375.8 L392.3 1378 L394.1 1380.3 L395.8 1382.6 L397.6 1384.9 L399.4 1387.2 L401.1 1389.4 L402.9 1391.6 L404.7 1393.8 L406.4 1396 L408.2 1398.1 L410 1400.2 L411.7 1402.3 L413.5 1404.3 L415.3 1406.3 L417 1408.2 L418.8 1410 L420.5 1411.8 L422.3 1413.5 L424.1 1415.2 L425.8 1416.8 L427.6 1418.4 L429.4 1419.8 L431.1 1421.3 L432.9 1422.6 L434.7 1423.9 L436.4 1425.1 L438.2 1426.3 L440 1427.4 L441.7 1428.4 L443.5 1429.4 L445.3 1430.3 L447 1431.1 L448.8 1431.9 L450.5 1432.7 L452.3 1433.4 L454.1 1434 L455.8 1434.6 L457.6 1435.2 L459.4 1435.7 L461.1 1436.2 L462.9 1436.6 L464.7 1437.1 L466.4 1437.4 L468.2 1437.8 L470 1438.1 L471.7 1438.4 L473.5 1438.7 L475.3 1438.9 L477 1439.1 L478.8 1439.3 L480.6 1439.5 L482.3 1439.7 L484.1 1439.9 L485.8 1440 L487.6 1440.1 L489.4 1440.2 L491.1 1440.3 L492.9 1440.4 L494.7 1440.5 L496.4 1440.6 L498.2 1440.7 L500 1440.7 L501.7 1440.8 L503.5 1440.8 L505.3 1440.9 L507 1440.9 L508.8 1441 L510.6 1441 L512.3 1441 L514.1 1441.1 L515.8 1441.1 L517.6 1441.1 L519.4 1441.1 L521.1 1441.1 L522.9 1441.2 L524.7 1441.2 L526.4 1441.2 L528.2 1441.2 L530 1441.2 L531.7 1441.2 L533.5 1441.2 L535.3 1441.2 L537 1441.2 L538.8 1441.2 L540.6 1441.3 L542.3 1441.3 L544.1 1441.3 L545.9 1441.3 L547.6 1441.3 L549.4 1441.3 L551.1 1441.3 L552.9 1441.3 L554.7 1441.3 L556.4 1441.3 L558.2 1441.3 L560 1441.3 L561.7 1441.3 L563.5 1441.3" fill="none" stroke="#ff00ff" stroke-width="5.3"/>
<rect x="119.9" y="1293.6" width="465.55" height="153.45" fill="none" stroke="#2b2b2b" stroke-width="3.1"/>
<path d="M115.1 1299.2 H118.6" stroke="#2b2b2b" stroke-width="5.6"/>
<path d="M115.1 1334.5 H118.6" stroke="#2b2b2b" stroke-width="5.6"/>
<path d="M115.1 1369.8 H118.6" stroke="#2b2b2b" stroke-width="5.6"/>
<path d="M115.1 1405.1 H118.6" stroke="#2b2b2b" stroke-width="5.6"/>
<path d="M115.1 1440.9 H118.6" stroke="#2b2b2b" stroke-width="5.6"/>
<path d="M140 1448.5 V1451.4" stroke="#2b2b2b" stroke-width="5.3"/>
<path d="M245.5 1448.5 V1451.4" stroke="#2b2b2b" stroke-width="5.3"/>
<path d="M352.3 1448.5 V1451.4" stroke="#2b2b2b" stroke-width="5.3"/>
<path d="M458.7 1448.5 V1451.4" stroke="#2b2b2b" stroke-width="5.3"/>
<path d="M565.2 1448.5 V1451.4" stroke="#2b2b2b" stroke-width="5.3"/>
<path d="M483.2 1352.4 H516.9" stroke="#000" stroke-width="5.1"/>
<path d="M483.2 1383.7 H516.9" stroke="#800080" stroke-width="5.1"/>
<path d="M483.2 1414.7 H516.9" stroke="#ff00ff" stroke-width="5.1"/>
<text transform="translate(9.7 41) scale(1.026 1.058)" font-size="43" fill="#000" stroke="#000" stroke-width="0.35">A</text>
<text transform="translate(61.6 45) scale(1.016 1.038)" font-size="34" fill="#0a48a0" stroke="#0a48a0" stroke-width="0.35">Stiffness <tspan font-style="italic">E</tspan></text>
<text transform="translate(346.8 39.3) scale(1.011 1.029)" font-size="34" fill="#231f20" stroke="#231f20" stroke-width="0.35">Progenitors</text>
<text transform="translate(59.1 177.1) scale(1.008 1.042)" font-size="35" fill="#000" stroke="#000" stroke-width="0.35" font-style="italic">K</text>
<text transform="translate(82.2 187.4) scale(1.096 1.054)" font-size="19" fill="#000" stroke="#000" stroke-width="0.35" font-style="italic">B</text>
<text transform="translate(493.1 177.1) scale(1.008 1.042)" font-size="35" fill="#000" stroke="#000" stroke-width="0.35" font-style="italic">K</text>
<text transform="translate(516.6 187.9) scale(1.029 1.131)" font-size="19" fill="#000" stroke="#000" stroke-width="0.35" font-style="italic">A</text>
<text transform="translate(326.6 138.9) scale(0.987 1.033)" font-size="35" fill="#000" stroke="#000" stroke-width="0.35" font-style="italic">K</text>
<text transform="translate(349.2 150.7) scale(1.08 1.085)" font-size="19" fill="#000" stroke="#000" stroke-width="0.35" font-style="italic">D</text>
<text transform="translate(106.6 249.9) scale(1.02 1.04)" font-size="34" fill="#1688fb" stroke="#1688fb" stroke-width="0.35">Collagen</text>
<text transform="translate(371.2 240.6) scale(1.05 0.998)" font-size="34" fill="#0a48a0" stroke="#0a48a0" stroke-width="0.35">Mechanical</text>
<text transform="translate(411.9 282.4) scale(1.014 0.998)" font-size="34" fill="#0a48a0" stroke="#0a48a0" stroke-width="0.35">feedback</text>
<text transform="translate(49 326.3) scale(1.018 1.042)" font-size="34" fill="#00958a" stroke="#00958a" stroke-width="0.35">Osteoblasts</text>
<text transform="translate(5.5 399.8) scale(1.03 1.044)" font-size="43" fill="#000" stroke="#000" stroke-width="0.35">B</text>
<text transform="translate(59 398.9) scale(0.983 1.054)" font-size="34" fill="#000" stroke="#000" stroke-width="0.35">120</text>
<text transform="translate(77.6 477.9) scale(1.057 1.054)" font-size="34" fill="#000" stroke="#000" stroke-width="0.35">90</text>
<text transform="translate(77.3 559.1) scale(1.065 1.067)" font-size="34" fill="#000" stroke="#000" stroke-width="0.35">60</text>
<text transform="translate(77.9 640.4) scale(1.05 1.071)" font-size="34" fill="#000" stroke="#000" stroke-width="0.35">30</text>
<text transform="translate(98.8 722) scale(1.034 1.05)" font-size="34" fill="#000" stroke="#000" stroke-width="0.35">0</text>
<text transform="translate(137 771.8) scale(1.034 1.008)" font-size="34" fill="#000" stroke="#000" stroke-width="0.35">0</text>
<text transform="translate(278.2 772) scale(1.071 1.019)" font-size="34" fill="#000" stroke="#000" stroke-width="0.35">2</text>
<text transform="translate(419.4 772) scale(1.02 1.041)" font-size="34" fill="#000" stroke="#000" stroke-width="0.35">4</text>
<text transform="translate(547.3 772) scale(1.06 1.042)" font-size="34" fill="#000" stroke="#000" stroke-width="0.35">6</text>
<text transform="translate(286.9 805.7) scale(1.021 1.04)" font-size="34" fill="#000" stroke="#000" stroke-width="0.35">Time (hr)</text>
<text transform="translate(52.7 708.3) rotate(-90) scale(1.016 1.003)" font-size="34" fill="#000" stroke="#000" stroke-width="0.35">Displacement (μm)</text>
<text transform="translate(184.9 416.8) scale(0.99 1.042)" font-size="34.5" fill="#000" stroke="#000" stroke-width="0.35">Front</text>
<text transform="translate(184.8 457.1) scale(1 1.04)" font-size="34.5" fill="#000" stroke="#000" stroke-width="0.35">Cells</text>
<text transform="translate(184.7 492.9) scale(1 1.04)" font-size="34.5" fill="#000" stroke="#000" stroke-width="0.35">Theory</text>
<text transform="translate(185.8 531.9) scale(1 1.04)" font-size="34.5" fill="#000" stroke="#000" stroke-width="0.35" font-style="italic">Ex vivo</text>
<text transform="translate(185.9 564.6) scale(1 1.04)" font-size="34.5" fill="#000" stroke="#000" stroke-width="0.35" font-style="italic">In vivo</text>
<text transform="translate(2.7 809.8) scale(1.03 1.056)" font-size="43" fill="#000" stroke="#000" stroke-width="0.35">C</text>
<text transform="translate(80.7 892.1) scale(0.997 1.077)" font-size="34" fill="#000" stroke="#000" stroke-width="0.35">15</text>
<text transform="translate(80.9 977.9) scale(0.988 1.042)" font-size="34" fill="#000" stroke="#000" stroke-width="0.35">10</text>
<text transform="translate(98.5 1073) scale(1.05 1.072)" font-size="34" fill="#000" stroke="#000" stroke-width="0.35">5</text>
<text transform="translate(99.7 1162.7) scale(1 1.033)" font-size="34" fill="#000" stroke="#000" stroke-width="0.35">0</text>
<text transform="translate(87.1 1198.8) scale(1.008 1.05)" font-size="34" fill="#000" stroke="#000" stroke-width="0.35">−1000</text>
<text transform="translate(205.5 1200.2) scale(1.029 1.038)" font-size="34" fill="#000" stroke="#000" stroke-width="0.35">−500</text>
<text transform="translate(344.7 1199.1) scale(1.04 1.05)" font-size="34" fill="#000" stroke="#000" stroke-width="0.35">0</text>
<text transform="translate(427.8 1199.1) scale(1.024 1.05)" font-size="34" fill="#000" stroke="#000" stroke-width="0.35">500</text>
<text transform="translate(507.6 1199.1) scale(0.997 1.05)" font-size="34" fill="#000" stroke="#000" stroke-width="0.35">1000</text>
<text transform="translate(308.8 1227.7) scale(1.013 1.04)" font-size="34" fill="#000" stroke="#000" stroke-width="0.35"><tspan font-style="italic">x</tspan> (μm)</text>
<text transform="translate(68.1 1120.8) rotate(-90) scale(1.015 0.994)" font-size="34" fill="#000" stroke="#000" stroke-width="0.35">Cell velocity (<tspan font-style="italic">V</tspan>)</text>
<text transform="translate(356.7 884.9) scale(1.01 1.04)" font-size="37" fill="#13a99b" stroke="#13a99b" stroke-width="0.35">Experimental</text>
<text transform="translate(408 928.4) scale(1.007 1.04)" font-size="37" fill="#231f20" stroke="#231f20" stroke-width="0.35">Simulated</text>
<text transform="translate(2.4 1242.7) scale(1.031 1.037)" font-size="43" fill="#000" stroke="#000" stroke-width="0.35">D</text>
<text transform="translate(236.7 1279.1) scale(1.013 1.034)" font-size="34" fill="#231f20" stroke="#231f20" stroke-width="0.35">Simulated front</text>
<text transform="translate(64 1309.1) scale(1.009 1.062)" font-size="34" fill="#000" stroke="#000" stroke-width="0.35">1.0</text>
<text transform="translate(62.9 1379.9) scale(1.038 1.058)" font-size="34" fill="#000" stroke="#000" stroke-width="0.35">0.5</text>
<text transform="translate(62.9 1452) scale(1.032 1.058)" font-size="34" fill="#000" stroke="#000" stroke-width="0.35">0.0</text>
<text transform="translate(92.1 1481.2) scale(1.003 1)" font-size="34" fill="#000" stroke="#000" stroke-width="0.35">−1000</text>
<text transform="translate(342.9 1481.8) scale(1.022 1.017)" font-size="34" fill="#000" stroke="#000" stroke-width="0.35">0</text>
<text transform="translate(306 1510.6) scale(1.015 1.04)" font-size="34" fill="#000" stroke="#000" stroke-width="0.35">x (μm)</text>
<text transform="translate(24.5 1432.2) rotate(-90) scale(1.032 0.966)" font-size="34" fill="#000" stroke="#000" stroke-width="0.35">Fraction</text>
<text transform="translate(58.9 1471.3) rotate(-90) scale(1.011 0.991)" font-size="34" fill="#000" stroke="#000" stroke-width="0.35">osteoblasts ϕ</text>
<text transform="translate(461.9 1324.6) scale(1.001 0.989)" font-size="30" fill="#000" stroke="#000" stroke-width="0.35">Time (hr)</text>
<text transform="translate(523.5 1360) scale(1.069 1.049)" font-size="29" fill="#000" stroke="#000" stroke-width="0.35">0</text>
<text transform="translate(523.5 1391.1) scale(1 1.039)" font-size="29" fill="#000" stroke="#000" stroke-width="0.35">3</text>
<text transform="translate(523.3 1422.4) scale(1 1.049)" font-size="29" fill="#000" stroke="#000" stroke-width="0.35">6</text>
</svg>
</body></html>
